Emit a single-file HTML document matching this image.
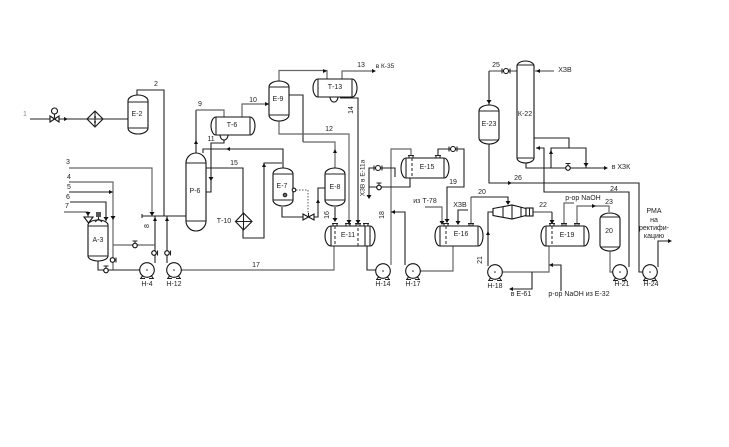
<!DOCTYPE html>
<html><head><meta charset="utf-8">
<style>
html,body{margin:0;padding:0;background:#fff;width:729px;height:447px;overflow:hidden}
svg{display:block}
text{font-family:"Liberation Sans",sans-serif;font-size:7px;fill:#222;text-anchor:middle}
.l{fill:none;stroke:#222;stroke-width:1.100}
.g{fill:none;stroke:#666;stroke-width:1.200}
.v{fill:#fff;stroke:#111;stroke-width:1.100}
</style></head><body>
<svg width="729" height="447" viewBox="0 0 729 447" xmlns="http://www.w3.org/2000/svg">
<defs>
<polygon id="d" points="-2.500,-4 2.500,-4 0,0" fill="#111"/>
<polygon id="u" points="-2,3 2,3 0,-1" fill="#111"/>
<polygon id="r" points="-4,-2 -4,2 0,0" fill="#111"/>
<polygon id="le" points="4,-2 4,2 0,0" fill="#111"/>
<g id="p"><path d="M-6 8 L-3 4 M6 8 L3 4 M-7 8.500 H-2 M2 8.500 H7" class="l"/><circle r="7.300" class="v"/><circle r="0.800" fill="#222"/></g>
<g id="c"><circle r="2.300" class="v"/><path d="M3.500 -2.500 V2.500 M2.300 0 H3.500" class="l"/></g>
<g id="vh"><circle r="2.300" class="v"/><path d="M-2.500 -4.500 H2.500 M0 -4.500 V-2.300" class="l"/></g>
<g id="h2"><circle r="2.500" class="v"/><path d="M-4 -2.500 V2.500 M4 -2.500 V2.500" class="l"/></g>
</defs>

<!-- pipes -->
<path class="l" d="M30 119 H128 M137 95 V90 H164 V216"/>
<path class="g" d="M69 168 H152 V214"/>
<path class="g" d="M69 182 H113 V270"/>
<path class="l" d="M69 192 H113"/>
<path class="l" d="M70 202 H106 V221"/>
<path class="g" d="M64 212 H88 V219"/>
<path class="l" d="M142 216 H186"/>
<path class="l" d="M155 216 V263"/>
<path class="l" d="M167 216 V263"/>
<path class="g" d="M113 245 H155"/>
<path class="l" d="M98 261 V270 H140"/>
<path class="g" d="M181 270 H334 V246"/>

<path class="l" d="M196 153 V110"/><path class="g" d="M196 110 H224 V117"/>
<path class="g" d="M242 117 V104 H269"/>
<path class="g" d="M279 81 V70.500 H327 V79"/>
<path class="g" d="M342 79 V71 H372"/>
<path class="l" d="M340 98 H358 V225"/>
<path class="l" d="M289 95 H303 V142"/><path class="g" d="M303 142 H335 V168"/>
<path class="g" d="M279 120 V134 H349 V225"/>
<path class="l" d="M224 140 V143 H211 V192 H206"/>
<path class="l" d="M203 153 V149 H283 V168"/>
<path class="l" d="M206 168 H243 V238 H264 V163 H282"/>
<path class="l" d="M282 207 V217 H303"/>
<path class="l" d="M313 217 H318 V188 H325"/>
<path class="l" d="M335 207 V220"/>
<path stroke="#555" fill="none" stroke-dasharray="1.500,1.500" d="M296 190 H308 V213"/>
<path class="l" d="M285 195 L293 190"/>

<path class="l" d="M367 246 V270 H376"/>
<path class="g" d="M391 265 V149 H411 V156"/>
<path class="l" d="M405 265 V212 H391"/>
<path class="g" d="M420 271 H453 V246"/>
<path class="l" d="M438 156 V149 H464 V187 H447 V222"/>
<path class="l" d="M410 178 V187 H369 V168 H395 V177"/>
<path class="l" d="M369 187 V197"/>
<path class="g" d="M425 207 H442 V224"/>
<path class="l" d="M458 224 V210 H468"/>
<path class="g" d="M471 226 V197"/><path class="l" d="M471 197 H508 V204"/>
<path class="l" d="M488 266 V212 H493"/>
<path class="g" d="M502 272 H549 V246"/>
<path class="l" d="M532 272 V289 H511"/>
<path class="l" d="M549 265 H561 V291"/>
<path class="g" d="M533 212 H552"/><path class="l" d="M552 212 V223"/>
<path class="g" d="M564 226 V203 H574"/>
<path class="g" d="M577 226 V206 H609 V212"/>
<path class="g" d="M610 251 V272 H613"/>
<path class="l" d="M629 267 V192 H544 V148 H536"/>
<path class="l" d="M489 144 V183 H639 V272 H643"/>
<path class="l" d="M658 267 V241 H668"/>
<path class="g" d="M517 71 H489"/><path class="l" d="M489 71 V105"/>
<path class="g" d="M535 71 H554"/>
<path class="l" d="M526 163 V168 H604"/>
<path class="l" d="M534 138 H569 V148 M551 168 V148 H586 V168"/>

<!-- vertical vessels -->
<path class="v" d="M128 101 A10 6 0 0 1 148 101 V128 A10 6 0 0 1 128 128 Z"/>
<path class="v" d="M88 225 A10 5 0 0 1 108 225 V256 A10 5 0 0 1 88 256 Z"/>
<path class="v" d="M186 163 A10 10 0 0 1 206 163 V221 A10 10 0 0 1 186 221 Z"/>
<path class="v" d="M269 87 A10 6 0 0 1 289 87 V115 A10 6 0 0 1 269 115 Z"/>
<path class="v" d="M273 174 A10 6 0 0 1 293 174 V200 A10 6 0 0 1 273 200 Z"/>
<path class="v" d="M325 174 A10 6 0 0 1 345 174 V200 A10 6 0 0 1 325 200 Z"/>
<path class="v" d="M479 111 A10 6 0 0 1 499 111 V138 A10 6 0 0 1 479 138 Z"/>
<path class="v" d="M517 66 A8.500 5 0 0 1 534 66 V158 A8.500 5 0 0 1 517 158 Z"/>
<path class="v" d="M600 219 A10 6 0 0 1 620 219 V245 A10 6 0 0 1 600 245 Z"/>
<!-- horizontal vessels -->
<path class="v" d="M216 117 H250 A5 9 0 0 1 250 135 H216 A5 9 0 0 1 216 117 Z"/>
<path class="v" d="M318 79 H352 A5 9 0 0 1 352 97 H318 A5 9 0 0 1 318 79 Z"/>
<path class="v" d="M331 226 H370 A5 10 0 0 1 370 246 H331 A6 10 0 0 1 331 226 Z"/>
<path class="v" d="M406 158 H444 A5 10 0 0 1 444 178 H406 A5 10 0 0 1 406 158 Z"/>
<path class="v" d="M440 226 H478 A5 10 0 0 1 478 246 H440 A5 10 0 0 1 440 226 Z"/>
<path class="v" d="M546 226 H584 A5 10 0 0 1 584 246 H546 A5 10 0 0 1 546 226 Z"/>
<!-- boots -->
<path class="v" d="M220 135 A4 5 0 0 0 228 135 Z"/>
<path class="v" d="M330 97 A4 5 0 0 0 338 97 Z"/>
<!-- tangent lines / internals -->
<path class="l" d="M128 102 H148 M128 128 H148 M88 226 H108 M88 256 H108 M186 163 H206 M186 221 H206 M269 87 H289 M269 115 H289 M273 174 H293 M273 200 H293 M325 174 H345 M325 200 H345 M479 111 H499 M479 140 H499 M517 65 H534 M517 158 H534 M600 217 H620 M600 247 H620"/>
<path class="l" d="M216 117 V135 M250 117 V135 M318 79 V97 M352 79 V97 M331 226 V246 M370 226 V246 M406 158 V178 M444 158 V178 M440 226 V246 M478 226 V246 M546 226 V246 M584 226 V246 M365 226 V246"/>
<path stroke="#222" fill="none" stroke-dasharray="3,2" d="M335 226 V246 M358 228 V246 M412 158 V178 M446 226 V246 M552 226 V246"/>
<!-- nozzles -->
<path class="l" d="M332 223.500 H338 M345 223.500 H351 M355 223.500 H361 M363 223.500 H369 M333 224 V226 M337 224 V226 M346 224 V226 M350 224 V226 M356 224 V226 M360 224 V226 M364 224 V226 M368 224 V226"/>
<path class="l" d="M408 155.500 H414 M435 155.500 H441 M409 156 V158 M413 156 V158 M436 156 V158 M440 156 V158"/>
<path class="l" d="M443 223.500 H449 M468 223.500 H474 M444 224 V226 M448 224 V226 M469 224 V226 M473 224 V226"/>
<path class="l" d="M549 223.500 H555 M561 223.500 H567 M574 223.500 H580 M550 224 V226 M554 224 V226 M562 224 V226 M566 224 V226 M575 224 V226 M579 224 V226"/>

<!-- heat exchangers -->
<path class="v" d="M95 111 L103 119 L95 127 L87 119 Z"/>
<path class="l" d="M95 111 V127 M87 119 H103"/><circle cx="95" cy="117" r="1" fill="#222"/><circle cx="95" cy="122" r="1" fill="#222"/>
<path class="v" d="M243.500 213 L252 221.500 L243.500 230 L235.500 221.500 Z"/>
<path class="l" d="M243.500 213 V230 M235.500 221.500 H252"/>

<!-- cone unit -->
<path class="v" d="M493 208.500 L512 205 L526 208.500 V215.500 L512 219 L493 215.500 Z"/>
<path class="l" d="M503 207 V217 M512 205 V219 M521 207.500 V216.500"/>
<rect class="v" x="526" y="208" width="7" height="8"/>
<path class="l" d="M529.500 208 V216"/>

<!-- valves etc. -->
<path class="v" d="M50 116 L59 122 V116 L50 122 Z"/>
<path class="l" d="M54.500 119 V114"/><circle cx="54.500" cy="111" r="3" class="v"/>
<use href="#r" x="68" y="119"/>
<path class="v" d="M303 214 L314 220 V214 L303 220 Z"/>
<path class="l" d="M308.500 217 V213"/>
<circle cx="285" cy="195" r="1.800" fill="#666" stroke="#222"/><circle cx="294" cy="190" r="1.800" class="v"/>
<path class="v" d="M84 217 H93 L88.500 223 Z"/>
<rect x="96" y="212" width="5" height="5" fill="#555"/>
<path class="l" d="M98.500 217 V220 M95 222 L98.500 219 L102 222"/>
<path class="l" d="M142 214 V218"/>
<use href="#vh" x="135" y="245.500"/>
<use href="#vh" x="106" y="270.500"/>
<use href="#c" x="154" y="253"/>
<use href="#c" x="167" y="253"/>
<use href="#c" x="112.500" y="260"/>
<use href="#h2" x="378" y="168"/>
<use href="#vh" x="379" y="187.500"/>
<use href="#h2" x="453" y="149"/>
<use href="#h2" x="506" y="71"/>
<use href="#vh" x="568" y="168"/>

<!-- pumps -->
<use href="#p" x="147" y="270"/>
<use href="#p" x="174" y="270"/>
<use href="#p" x="383" y="271"/>
<use href="#p" x="413" y="271"/>
<use href="#p" x="495" y="272"/>
<use href="#p" x="620" y="272"/>
<use href="#p" x="650" y="272"/>

<!-- arrows -->
<use href="#d" x="152" y="216"/><use href="#u" x="155" y="218"/><use href="#u" x="167" y="218"/>
<use href="#r" x="113" y="192"/><use href="#d" x="113" y="220"/><use href="#d" x="106" y="221"/><use href="#d" x="88" y="216"/>
<use href="#u" x="196" y="141"/><use href="#r" x="269" y="104"/><use href="#r" x="327" y="71"/><use href="#r" x="376" y="71"/>
<use href="#le" x="226" y="149"/><use href="#u" x="264" y="164"/><use href="#d" x="211" y="181"/><use href="#u" x="318" y="200"/>
<use href="#u" x="335" y="150"/><use href="#d" x="335" y="222"/><use href="#d" x="349" y="224"/><use href="#d" x="358" y="224"/>
<use href="#d" x="369" y="199"/><use href="#le" x="391" y="212"/><use href="#d" x="442" y="225"/><use href="#d" x="447" y="223"/>
<use href="#d" x="458" y="225"/><use href="#d" x="508" y="205"/><use href="#u" x="488" y="232"/><use href="#le" x="509" y="289"/>
<use href="#le" x="549" y="265"/><use href="#d" x="552" y="224"/><use href="#r" x="596" y="206"/><use href="#le" x="536" y="148"/>
<use href="#d" x="489" y="104"/><use href="#r" x="512" y="183"/><use href="#le" x="536" y="71"/><use href="#r" x="608" y="168"/>
<use href="#u" x="551" y="151"/><use href="#d" x="586" y="167"/><use href="#r" x="672" y="241"/>

<!-- labels -->
<text x="25" y="116" style="fill:#888">1</text>
<text x="156" y="86">2</text><text x="68" y="164">3</text><text x="69" y="179">4</text><text x="69" y="189">5</text><text x="68" y="199">6</text><text x="67" y="208">7</text>
<text x="146" y="229" transform="rotate(-90 146 226)">8</text>
<text x="200" y="106">9</text><text x="253" y="102">10</text><text x="211" y="141">11</text><text x="329" y="131">12</text><text x="361" y="67">13</text>
<text x="351" y="112" transform="rotate(-90 351 110)">14</text>
<text x="234" y="165">15</text>
<text x="327" y="217" transform="rotate(-90 327 215)">16</text>
<text x="256" y="267">17</text>
<text x="382" y="217" transform="rotate(-90 382 215)">18</text>
<text x="453" y="184">19</text><text x="482" y="194">20</text>
<text x="480" y="262" transform="rotate(-90 480 260)">21</text>
<text x="543" y="207">22</text><text x="609" y="204">23</text><text x="614" y="191">24</text><text x="496" y="67">25</text><text x="518" y="180">26</text>
<text x="137" y="116">Е-2</text><text x="98" y="242">А-3</text><text x="195" y="193">Р-6</text><text x="232" y="127">Т-6</text><text x="278" y="101">Е-9</text><text x="335" y="89">Т-13</text>
<text x="282" y="188">Е-7</text><text x="335" y="189">Е-8</text><text x="224" y="223">Т-10</text><text x="348" y="237">Е-11</text><text x="427" y="169">Е-15</text><text x="461" y="236">Е-16</text><text x="567" y="237">Е-19</text>
<text x="489" y="126">Е-23</text><text x="525" y="116">К-22</text><text x="609" y="233">20</text>
<text x="147" y="286">Н-4</text><text x="174" y="286">Н-12</text><text x="383" y="286">Н-14</text><text x="413" y="286">Н-17</text><text x="495" y="288">Н-18</text><text x="622" y="286">Н-21</text><text x="651" y="286">Н-24</text>
<text x="385" y="68" style="font-size:6.500px">в К-35</text>
<text x="362" y="180.500" transform="rotate(-90 362 178)" style="font-size:6.500px">ХЗВ в Е-11а</text>
<text x="425" y="203">из Т-78</text><text x="460" y="207">ХЗВ</text>
<text x="565" y="72">ХЗВ</text><text x="621" y="169">в ХЗК</text>
<text x="521" y="296">в Е-61</text>
<text x="583" y="200">р-ор NaOH</text>
<text x="579" y="296">р-ор NaOH из Е-32</text>
<text x="654" y="213">РМА</text><text x="654" y="222">на</text><text x="654" y="230">ректифи-</text><text x="654" y="238">кацию</text>
</svg>
</body></html>
